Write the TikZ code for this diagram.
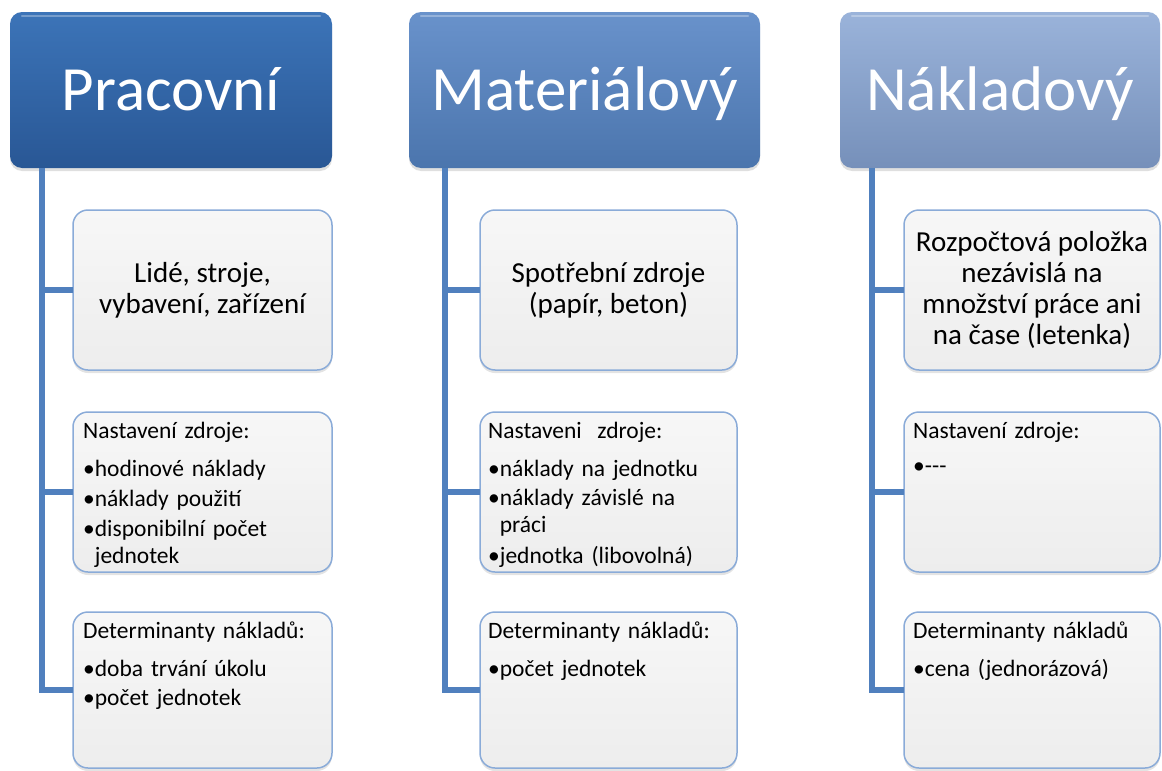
\documentclass[tikz,border=0pt]{standalone}
\usepackage{fontspec}
\setmainfont{Carlito}
\usetikzlibrary{shadows}
\definecolor{connblue}{HTML}{5080BE}
\definecolor{hAtop}{HTML}{3C74B8}
\definecolor{hAbot}{HTML}{295795}
\definecolor{hBtop}{HTML}{6992CB}
\definecolor{hBbot}{HTML}{4B75AD}
\definecolor{hCtop}{HTML}{9AB3DA}
\definecolor{hCbot}{HTML}{7690BA}
\definecolor{cardborder}{HTML}{8AABD8}
\definecolor{cardtop}{HTML}{F7F7F7}
\definecolor{cardbot}{HTML}{EDEDED}
\begin{document}
\begin{tikzpicture}[x=1pt,y=-1pt,
  hdr/.style={rounded corners=12pt, minimum height=156pt, inner sep=0pt, outer sep=0pt,
    text=white, font=\fontsize{63}{72}\selectfont, text height=44pt, text depth=4pt,
    drop shadow={opacity=0.25, shadow xshift=0pt, shadow yshift=-3pt}},
  gloss/.style={white, opacity=0.3, line width=2.5pt, line cap=round},
  card/.style={rounded corners=15pt, draw=cardborder, line width=1.5pt,
    top color=cardtop, bottom color=cardbot, inner sep=0pt, outer sep=0pt,
    drop shadow={opacity=0.22, shadow xshift=0pt, shadow yshift=-3pt}},
  bigtext/.style={align=center, font=\fontsize{29}{31}\selectfont, inner sep=0pt},
  listtext/.style={anchor=base west, align=left, text width=250pt, inner sep=0pt,
    font=\fontsize{23.5}{27}\selectfont},
  connector/.style={draw=connblue, line width=6pt}]
\useasboundingbox (0,0) rectangle (1162,771);

% headers
\node[hdr, minimum width=322pt, top color=hAtop, bottom color=hAbot] (h1) at (171,90) {Pracovní};
\node[hdr, minimum width=351pt, top color=hBtop, bottom color=hBbot] (h2) at (584.5,90) {Materiálový};
\node[hdr, minimum width=320pt, top color=hCtop, bottom color=hCbot] (h3) at (1000,90) {Nákladový};
\foreach \h in {h1,h2,h3}{
  \draw[gloss] ([xshift=12pt,yshift=-4pt]\h.north west) -- ([xshift=-12pt,yshift=-4pt]\h.north east);
}

% cards column 1
\node[card, minimum width=259pt, minimum height=160pt] (c11) at (202.5,290) {};
\node[card, minimum width=259pt, minimum height=160pt] (c12) at (202.5,492) {};
\node[card, minimum width=259pt, minimum height=156pt] (c13) at (202.5,690) {};
% cards column 2
\node[card, minimum width=257pt, minimum height=160pt] (c21) at (608.5,290) {};
\node[card, minimum width=257pt, minimum height=160pt] (c22) at (608.5,492) {};
\node[card, minimum width=257pt, minimum height=156pt] (c23) at (608.5,690) {};
% cards column 3
\node[card, minimum width=256pt, minimum height=160pt] (c31) at (1032,290) {};
\node[card, minimum width=256pt, minimum height=160pt] (c32) at (1032,492) {};
\node[card, minimum width=256pt, minimum height=156pt] (c33) at (1032,690) {};

% texts
\node[bigtext] (t11) at (c11.center) {Lidé, stroje,\\vybavení, zařízení};
\node[bigtext] (t21) at (c21.center) {Spotřební zdroje\\(papír, beton)};
\node[bigtext] (t31) at (c31.center) {Rozpočtová položka\\nezávislá na\\množství práce ani\\na čase (letenka)};

\node[listtext] (t12) at ([xshift=10pt,yshift=-26pt]c12.north west)
  {Nastavení zdroje:\\[11pt]•hodinové náklady\\[3pt]•náklady použití\\[3pt]•disponibilní počet\\\hphantom{•}jednotek};
\node[listtext] (t13) at ([xshift=10pt,yshift=-26pt]c13.north west)
  {Determinanty nákladů:\\[11pt]•doba trvání úkolu\\[2pt]•počet jednotek};
\node[listtext] (t22) at ([xshift=8pt,yshift=-26pt]c22.north west)
  {Nastaveni\ \ zdroje:\\[11pt]•náklady na jednotku\\[2pt]•náklady závislé na\\\hphantom{•}práci\\[4pt]•jednotka (libovolná)};
\node[listtext] (t23) at ([xshift=8pt,yshift=-26pt]c23.north west)
  {Determinanty nákladů:\\[11pt]•počet jednotek};
\node[listtext] (t32) at ([xshift=9pt,yshift=-26pt]c32.north west)
  {Nastavení zdroje:\\[8pt]•-{}-{}-};
\node[listtext] (t33) at ([xshift=9pt,yshift=-26pt]c33.north west)
  {Determinanty nákladů\\[11pt]•cena (jednorázová)};

% connectors
\coordinate (v1) at (42,168);
\coordinate (v2) at (445,168);
\coordinate (v3) at (872,168);
\draw[connector] (v1) |- (c13.west);
\draw[connector] (v1 |- c11.west) -- (c11.west);
\draw[connector] (v1 |- c12.west) -- (c12.west);
\draw[connector] (v2) |- (c23.west);
\draw[connector] (v2 |- c21.west) -- (c21.west);
\draw[connector] (v2 |- c22.west) -- (c22.west);
\draw[connector] (v3) |- (c33.west);
\draw[connector] (v3 |- c31.west) -- (c31.west);
\draw[connector] (v3 |- c32.west) -- (c32.west);
\end{tikzpicture}
\end{document}
